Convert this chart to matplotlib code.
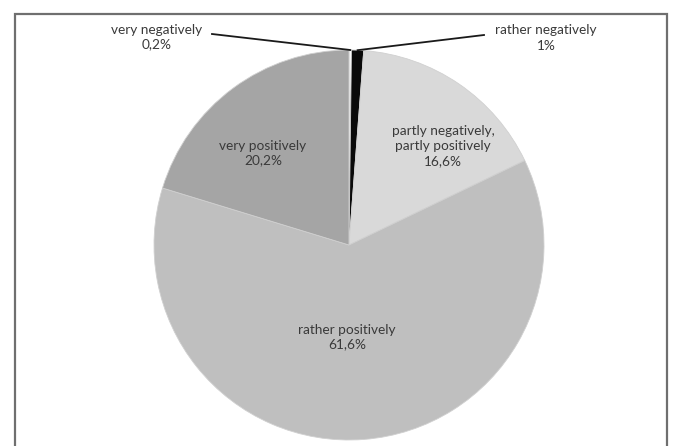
import matplotlib.pyplot as plt
from matplotlib.patches import Rectangle
import numpy as np

labels = ["very negatively", "rather negatively", "partly negatively,\npartly positively",
          "rather positively", "very positively"]
values = [0.2, 1.0, 16.6, 61.6, 20.2]
pct_text = ["0,2%", "1%", "16,6%", "61,6%", "20,2%"]
colors = ["#ffffff", "#0a0a0a", "#d9d9d9", "#bfbfbf", "#a5a5a5"]

W, H = 676, 446
fig = plt.figure(figsize=(W / 100, H / 100), dpi=100)
ax = fig.add_axes([0, 0, 1, 1])

cx, cy, r = 349, H - 245, 195
wedges, _ = ax.pie(values, colors=colors, startangle=90, counterclock=False,
                   center=(cx, cy), radius=r,
                   wedgeprops=dict(linewidth=0.6, edgecolor="#d0d0d0"))
ax.set_xlim(0, W)
ax.set_ylim(0, H)
ax.set_aspect("equal")
ax.axis("off")

# frame
ax.add_patch(Rectangle((15, -10), 652, H - 14 + 10, fill=False,
                       edgecolor="#6f6f6f", linewidth=1.6, zorder=5))

font = dict(family="Lato", fontsize=9.8, color="#3a3a3a", ha="center", va="center",
            linespacing=1.3)

# inside labels
inside = {2: (443, 146), 3: (347, 337), 4: (263, 153)}
for i, (x, y) in inside.items():
    ax.text(x, H - y, labels[i] + "\n" + pct_text[i], **font)

# outside labels with leader lines
outside = {0: ((157, 37), (212, 34)), 1: ((546, 38), (484, 35))}
for i, ((tx, ty), (lx, ly)) in outside.items():
    w = wedges[i]
    ang = np.deg2rad((w.theta1 + w.theta2) / 2)
    px, py = cx + r * np.cos(ang), cy + r * np.sin(ang)
    ax.plot([lx, px], [H - ly, py], color="#1a1a1a", linewidth=1.3, zorder=6)
    ax.text(tx, H - ty, labels[i] + "\n" + pct_text[i], **font)

fig.savefig("out.png", dpi=100, facecolor="white")
